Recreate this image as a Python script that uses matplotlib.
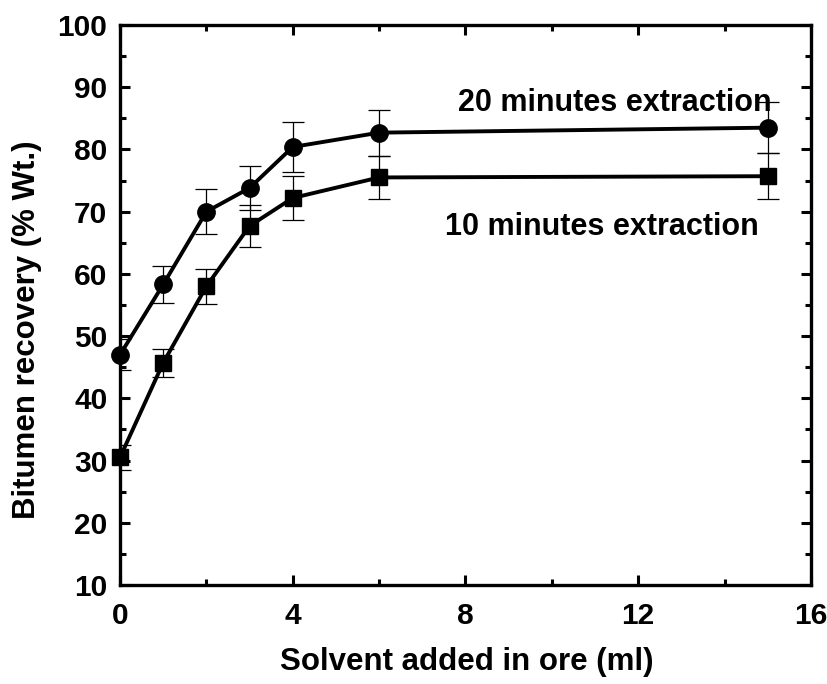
import matplotlib
matplotlib.use("Agg")
import matplotlib.pyplot as plt
from matplotlib.ticker import MultipleLocator

plt.rcParams['font.family'] = ['Liberation Sans', 'DejaVu Sans']
plt.rcParams['font.weight'] = 'bold'

# Solvent added (ml)
solvent = [0, 1, 2, 3, 4, 6, 15]

# Bitumen recovery (% Wt.) and error bars
rec_20min = [47.0, 58.3, 70.0, 73.8, 80.4, 82.7, 83.5]
err_20min = [2.5, 2.9, 3.6, 3.5, 4.0, 3.7, 4.1]
rec_10min = [30.5, 45.7, 58.0, 67.7, 72.2, 75.5, 75.7]
err_10min = [2.0, 2.3, 2.8, 3.3, 3.5, 3.4, 3.7]

label_20 = "20 minutes extraction"
label_10 = "10 minutes extraction"

fig = plt.figure(figsize=(8.28, 6.84), dpi=100)
ax = fig.add_axes([120 / 828, 99 / 684, 691 / 828, 560 / 684])

ax.errorbar(solvent, rec_20min, yerr=err_20min, fmt='none', ecolor='black',
            elinewidth=0.9, capsize=8, capthick=0.9, zorder=2)
ax.errorbar(solvent, rec_10min, yerr=err_10min, fmt='none', ecolor='black',
            elinewidth=0.9, capsize=8, capthick=0.9, zorder=2)
ax.plot(solvent, rec_20min, color='black', linewidth=2.8, marker='o',
        markersize=12.5, zorder=3, clip_on=False)
ax.plot(solvent, rec_10min, color='black', linewidth=2.8, marker='s',
        markersize=11.5, zorder=3, clip_on=False)

ax.text(7.82, 87.5, label_20, fontsize=22, fontweight='bold', va='center', ha='left')
ax.text(7.52, 67.6, label_10, fontsize=22, fontweight='bold', va='center', ha='left')

ax.set_xlim(0, 16)
ax.set_ylim(10, 100)
ax.xaxis.set_major_locator(MultipleLocator(4))
ax.xaxis.set_minor_locator(MultipleLocator(2))
ax.yaxis.set_major_locator(MultipleLocator(10))
ax.yaxis.set_minor_locator(MultipleLocator(5))

for side in ax.spines.values():
    side.set_linewidth(2.4)
ax.tick_params(which='both', direction='in', top=True, right=True, width=2.2)
ax.tick_params(which='major', length=7, labelsize=21.5)
ax.tick_params(which='minor', length=4)
ax.tick_params(axis='x', which='major', pad=12)
ax.tick_params(axis='y', which='major', pad=9)

ax.set_xlabel("Solvent added in ore (ml)", fontsize=22.5, fontweight='bold')
ax.set_ylabel("Bitumen recovery (% Wt.)", fontsize=22.5, fontweight='bold')
ax.xaxis.label.set_va('center')
ax.yaxis.label.set_va('center')
ax.xaxis.set_label_coords(0.502, -0.137)
ax.yaxis.set_label_coords(-0.135, 0.455)

fig.savefig("out.png", dpi=100)
